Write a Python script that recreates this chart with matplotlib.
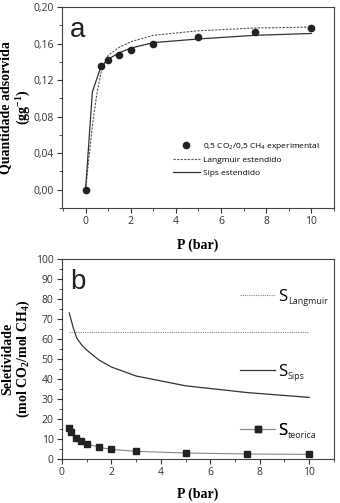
import matplotlib
matplotlib.use("Agg")
import matplotlib.pyplot as plt
from matplotlib.ticker import MultipleLocator, FuncFormatter
from matplotlib.lines import Line2D

plt.rcParams['font.family'] = ['Open Sans', 'DejaVu Sans']
plt.rcParams['mathtext.fontset'] = 'custom'
plt.rcParams['mathtext.rm'] = 'Liberation Serif'
plt.rcParams['mathtext.bf'] = 'Liberation Serif:bold'
plt.rcParams['mathtext.sf'] = 'Open Sans'

# painel a - isotermas
p_exp = [0, 0.67, 1.0, 1.5, 2.0, 3.0, 5.0, 7.5, 10.0]
q_exp = [0.0, 0.135, 0.142, 0.148, 0.153, 0.160, 0.167, 0.173, 0.177]
p_lang = [0, 0.3, 0.5, 0.7, 1.0, 1.5, 2.0, 3.0, 5.0, 7.5, 10.0]
q_lang = [0.0, 0.070, 0.105, 0.130, 0.147, 0.156, 0.162, 0.169, 0.174, 0.177, 0.178]
p_sips = [0, 0.3, 0.67, 1.0, 1.5, 2.0, 3.0, 5.0, 7.5, 10.0]
q_sips = [0.0, 0.107, 0.134, 0.143, 0.150, 0.155, 0.161, 0.165, 0.169, 0.171]

# painel b - seletividade
p_sel = [0.3, 0.45, 0.6, 0.8, 1.0, 1.5, 2.0, 3.0, 5.0, 7.5, 10.0]
s_sips = [73.0, 66.0, 60.5, 57.0, 54.5, 49.5, 46.0, 41.5, 36.6, 33.2, 30.8]
s_lang = [63.5] * len(p_sel)
p_teo = [0.27, 0.37, 0.57, 0.77, 1.0, 1.5, 2.0, 3.0, 5.0, 7.5, 10.0]
s_teo = [15.3, 13.3, 10.7, 8.8, 7.7, 5.8, 4.8, 3.8, 3.0, 2.5, 2.3]

serif = {'family': 'Liberation Serif', 'weight': 'bold', 'size': 10}
virgula = FuncFormatter(lambda v, pos: ("%.2f" % v).replace('.', ','))

fig = plt.figure(figsize=(3.4, 5.03), dpi=100)
ax1 = fig.add_axes([0.182, 0.5865, 0.8, 0.3996])
ax2 = fig.add_axes([0.182, 0.0875, 0.8, 0.3976])

cinza = '#333333'
for ax in (ax1, ax2):
    for s in ax.spines.values():
        s.set_color('#444444')
        s.set_linewidth(0.8)
    ax.tick_params(which='both', direction='out', top=False, right=False,
                   labelsize=7.5, colors='#333333', pad=2.5)
    ax.tick_params(which='major', length=3.5)
    ax.tick_params(which='minor', length=2)
    ax.xaxis.set_major_locator(MultipleLocator(2))
    ax.xaxis.set_minor_locator(MultipleLocator(1))

# a
ax1.plot(p_lang, q_lang, color='#555555', lw=0.8, ls=(0, (2, 1.2)), label='Langmuir estendido')
ax1.plot(p_sips, q_sips, color=cinza, lw=0.9, label='Sips estendido')
ax1.plot(p_exp, q_exp, 'o', color='#222222', ms=4.5, label='0,5 CO$_\\mathsf{2}$/0,5 CH$_\\mathsf{4}$ experimental')
ax1.set_xlim(-1.05, 11)
ax1.set_ylim(-0.02, 0.20)
ax1.yaxis.set_major_locator(MultipleLocator(0.04))
ax1.yaxis.set_minor_locator(MultipleLocator(0.02))
ax1.yaxis.set_major_formatter(virgula)
ax1.set_xlabel('P (bar)', fontdict=serif)
ax1.xaxis.set_label_coords(0.5, -0.15)
ax1.set_ylabel('Quantidade adsorvida\n(gg$^{\\mathbf{-1}}$)', fontdict=serif, linespacing=1.05)
ax1.yaxis.set_label_coords(-0.11, 0.5)
ax1.text(0.03, 0.95, 'a', transform=ax1.transAxes, fontsize=20,
         family='Liberation Sans', va='top', ha='left', color='#222222')
h, l = ax1.get_legend_handles_labels()
ax1.legend([h[2], h[0], h[1]], [l[2], l[0], l[1]], loc='center left',
           bbox_to_anchor=(0.38, 0.245), frameon=False, fontsize=6,
           handlelength=3.3, handletextpad=0.3, labelspacing=0.55)

# b
ax2.plot(p_sel, s_lang, color='#888888', lw=0.8, ls=(0, (1, 1)))
ax2.plot(p_sel, s_sips, color=cinza, lw=0.9)
ax2.plot(p_teo, s_teo, color='#888888', lw=0.8, marker='s', ms=4.5,
         mfc='#222222', mec='#222222')
ax2.set_xlim(0, 11)
ax2.set_ylim(0, 100)
ax2.yaxis.set_major_locator(MultipleLocator(10))
ax2.yaxis.set_minor_locator(MultipleLocator(5))
ax2.set_xlabel('P (bar)', fontdict=serif)
ax2.xaxis.set_label_coords(0.5, -0.145)
ax2.set_ylabel('Seletividade\n(mol CO$_\\mathbf{2}$/mol CH$_\\mathbf{4}$)', fontdict=serif, linespacing=1.05)
ax2.yaxis.set_label_coords(-0.11, 0.5)
ax2.text(0.03, 0.95, 'b', transform=ax2.transAxes, fontsize=20,
         family='Liberation Sans', va='top', ha='left', color='#222222')

entradas = [
    (Line2D([], [], color='#888888', lw=0.8, ls=(0, (1, 1))), 'Langmuir', 0.81),
    (Line2D([], [], color=cinza, lw=0.9), 'Sips', 0.435),
    (Line2D([], [], color='#888888', lw=0.8, marker='s', ms=4.5, mfc='#222222', mec='#222222'),
     'teorica', 0.14),
]
for handle, sub, yy in entradas:
    leg = ax2.legend([handle], ['S'], loc='center left', bbox_to_anchor=(0.60, yy),
                     frameon=False, fontsize=12, handlelength=2.1, handletextpad=0.2)
    ax2.add_artist(leg)
    ax2.annotate(sub, xy=(1, 0), xycoords=leg.get_texts()[0], xytext=(0.3, -1.0),
                 textcoords='offset points', fontsize=6.5, va='bottom', ha='left',
                 color='#222222', zorder=10)

fig.savefig('out.png', dpi=100)
